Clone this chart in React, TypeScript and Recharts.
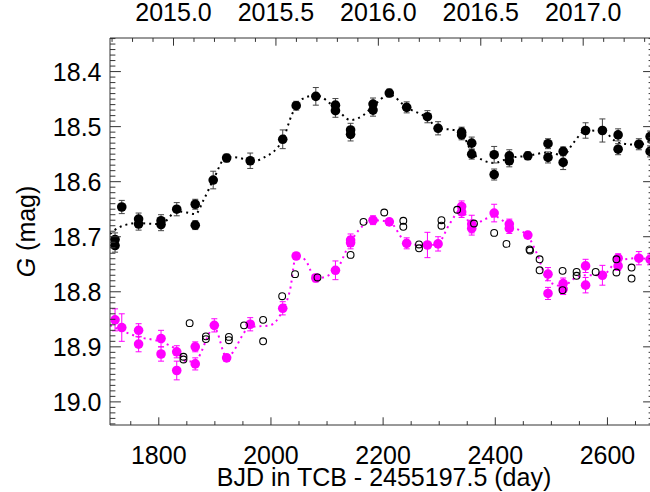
import React from "react";
import { ComposedChart, Scatter, Line, XAxis, YAxis, ErrorBar, Label } from "recharts";

// [day, mag, error]
const seriesA: [number, number, number][] = [
  [1722, 18.705, 0.012], [1722, 18.716, 0.012], [1734, 18.646, 0.012],
  [1764, 18.668, 0.011], [1764, 18.677, 0.011], [1804, 18.671, 0.011],
  [1804, 18.678, 0.011], [1832, 18.65, 0.012], [1865, 18.641, 0.009],
  [1865, 18.679, 0.008], [1897, 18.597, 0.016], [1921, 18.557, 0.007],
  [1963, 18.562, 0.014], [2021, 18.523, 0.017], [2045, 18.462, 0.008],
  [2080, 18.445, 0.016], [2115, 18.461, 0.012], [2115, 18.471, 0.012],
  [2142, 18.506, 0.012], [2142, 18.514, 0.012], [2182, 18.459, 0.011],
  [2182, 18.47, 0.011], [2211, 18.439, 0.007], [2242, 18.465, 0.01],
  [2279, 18.482, 0.011], [2298, 18.503, 0.012], [2340, 18.51, 0.009],
  [2340, 18.515, 0.009], [2358, 18.53, 0.011], [2358, 18.55, 0.009],
  [2398, 18.551, 0.015], [2398, 18.587, 0.01], [2425, 18.553, 0.011],
  [2425, 18.562, 0.011], [2458, 18.553, 0.007], [2494, 18.531, 0.009],
  [2494, 18.556, 0.01], [2521, 18.545, 0.008], [2521, 18.565, 0.013],
  [2561, 18.507, 0.014], [2591, 18.507, 0.021], [2619, 18.515, 0.011],
  [2619, 18.541, 0.01], [2656, 18.532, 0.01], [2676, 18.518, 0.01],
  [2676, 18.545, 0.01],
];

const seriesB: [number, number, number][] = [
  [1722, 18.851, 0.02], [1734, 18.865, 0.025], [1764, 18.87, 0.012],
  [1764, 18.895, 0.014], [1804, 18.885, 0.015], [1804, 18.913, 0.013],
  [1832, 18.909, 0.011], [1832, 18.943, 0.017], [1865, 18.9, 0.009],
  [1865, 18.931, 0.011], [1899, 18.861, 0.012], [1921, 18.92, 0.006],
  [1963, 18.859, 0.012], [2021, 18.83, 0.012], [2045, 18.735, 0.005],
  [2080, 18.775, 0.007], [2115, 18.761, 0.017], [2142, 18.706, 0.011],
  [2142, 18.711, 0.011], [2182, 18.67, 0.008], [2211, 18.673, 0.006],
  [2242, 18.712, 0.01], [2279, 18.715, 0.023], [2298, 18.713, 0.013],
  [2340, 18.645, 0.01], [2340, 18.655, 0.01], [2358, 18.677, 0.016],
  [2358, 18.685, 0.012], [2398, 18.657, 0.016], [2425, 18.677, 0.009],
  [2425, 18.685, 0.009], [2458, 18.697, 0.006], [2494, 18.768, 0.012],
  [2494, 18.803, 0.011], [2521, 18.785, 0.01], [2521, 18.795, 0.01],
  [2561, 18.753, 0.012], [2561, 18.788, 0.014], [2591, 18.77, 0.018],
  [2619, 18.739, 0.008], [2619, 18.753, 0.008], [2656, 18.739, 0.012],
  [2676, 18.741, 0.01],
];

// [day, mag]
const seriesC: [number, number][] = [
  [1844, 18.918], [1844, 18.923], [1855, 18.857], [1884, 18.881], [1884, 18.886],
  [1925, 18.882], [1925, 18.888], [1952, 18.861], [1986, 18.851], [1986, 18.89],
  [2020, 18.808], [2043, 18.768], [2083, 18.774], [2142, 18.733], [2165, 18.673],
  [2202, 18.656], [2236, 18.671], [2236, 18.682], [2264, 18.714], [2264, 18.721],
  [2304, 18.67], [2304, 18.68], [2332, 18.651], [2362, 18.676], [2398, 18.693],
  [2420, 18.713], [2461, 18.723], [2462, 18.725], [2479, 18.741], [2479, 18.761],
  [2520, 18.762], [2520, 18.797], [2545, 18.764], [2545, 18.771], [2579, 18.764],
  [2616, 18.741], [2616, 18.765], [2643, 18.756], [2643, 18.776],
];

const curveA: [number, number][] = [
  [1713, 18.695], [1731, 18.682], [1764, 18.675], [1779, 18.676], [1804, 18.677],
  [1832, 18.654], [1850, 18.656], [1865, 18.659], [1880, 18.633], [1897, 18.597],
  [1921, 18.555], [1945, 18.557], [1963, 18.564], [1986, 18.557], [2021, 18.524],
  [2037, 18.479], [2052, 18.452], [2080, 18.443], [2115, 18.466], [2142, 18.488],
  [2165, 18.479], [2182, 18.463], [2211, 18.442], [2242, 18.465], [2279, 18.485],
  [2298, 18.503], [2325, 18.506], [2340, 18.512], [2358, 18.546], [2378, 18.561],
  [2398, 18.566], [2425, 18.557], [2458, 18.553], [2494, 18.547], [2521, 18.552],
  [2539, 18.53], [2561, 18.507], [2591, 18.508], [2619, 18.529], [2656, 18.533],
  [2676, 18.526],
];

const curveB: [number, number][] = [
  [1713, 18.861], [1764, 18.882], [1804, 18.891], [1832, 18.906], [1850, 18.927],
  [1865, 18.925], [1899, 18.865], [1921, 18.919], [1963, 18.864], [1998, 18.861],
  [2021, 18.833], [2034, 18.797], [2045, 18.734], [2061, 18.742], [2080, 18.776],
  [2115, 18.762], [2142, 18.709], [2165, 18.679], [2182, 18.67], [2211, 18.673],
  [2242, 18.711], [2279, 18.716], [2298, 18.712], [2319, 18.676], [2340, 18.65],
  [2358, 18.681], [2378, 18.67], [2398, 18.663], [2425, 18.68], [2458, 18.699],
  [2474, 18.73], [2494, 18.78], [2521, 18.79], [2539, 18.777], [2561, 18.77],
  [2591, 18.77], [2619, 18.743], [2656, 18.739], [2676, 18.741],
];

const dayMajor = [1800, 2000, 2200, 2400, 2600];
const dayTicks = [1750, 1800, 1850, 1900, 1950, 2000, 2050, 2100, 2150, 2200, 2250,
  2300, 2350, 2400, 2450, 2500, 2550, 2600, 2650];
const yearMajor = [2015.0, 2015.5, 2016.0, 2016.5, 2017.0];
const magMajor = [18.4, 18.5, 18.6, 18.7, 18.8, 18.9, 19.0];

const DAY_DOMAIN: [number, number] = [1713, 2683];
const MAG_DOMAIN: [number, number] = [18.339, 19.042];

// years since 2010.0 (BJD 2455197.5)
const yearToDay = (yr: number) => (yr - 2010) * 365.25;
const dayToYear = (d: number) => 2010 + d / 365.25;

const yearTicks = Array.from({ length: 27 }, (_, i) => yearToDay(2014.7 + i * 0.1));
const magTicks = Array.from({ length: 71 }, (_, i) => Math.round((18.34 + i * 0.01) * 100) / 100);

const toErrRows = (rows: [number, number, number][]) =>
  rows.map(([day, mag, err]) => ({ day, mag, err }));
const toRows = (rows: [number, number][]) => rows.map(([day, mag]) => ({ day, mag }));

const FONT = '"Liberation Sans", Arial, Helvetica, sans-serif';
const AXIS = "#333";
const PINK = "#ff00ff";

const isMajorMag = (v: number) => magMajor.some((m) => Math.abs(m - v) < 1e-6);
const isMajorYear = (d: number) => {
  const y = dayToYear(d);
  return yearMajor.some((m) => Math.abs(m - y) < 1e-4);
};

function BottomTick({ x, y, payload }: any) {
  const major = dayMajor.includes(payload.value);
  return (
    <g>
      <line x1={x} x2={x} y1={y} y2={y - (major ? 7.7 : 3.9)} stroke={AXIS} />
      {major && (
        <text x={x} y={y + 38.5} textAnchor="middle" fontSize={25} fontFamily={FONT} fill="#000">
          {payload.value}
        </text>
      )}
    </g>
  );
}

function TopTick({ x, y, payload }: any) {
  const major = isMajorYear(payload.value);
  return (
    <g>
      <line x1={x} x2={x} y1={y} y2={y + (major ? 7.7 : 3.9)} stroke={AXIS} />
      {major && (
        <text x={x} y={y - 17} textAnchor="middle" fontSize={25} fontFamily={FONT} fill="#000">
          {dayToYear(payload.value).toFixed(1)}
        </text>
      )}
    </g>
  );
}

function LeftTick({ x, y, payload }: any) {
  const major = isMajorMag(payload.value);
  return (
    <g>
      <line x1={x} x2={x + (major ? 10.9 : 5.4)} y1={y} y2={y} stroke={AXIS} />
      {major && (
        <text x={x - 8.5} y={y + 9} textAnchor="end" fontSize={25} fontFamily={FONT} fill="#000">
          {payload.value.toFixed(1)}
        </text>
      )}
    </g>
  );
}

function RightTick({ x, y, payload }: any) {
  const major = isMajorMag(payload.value);
  return <line x1={x} x2={x - (major ? 10.9 : 5.4)} y1={y} y2={y} stroke={AXIS} />;
}

function XTitle({ viewBox }: any) {
  return (
    <text x={viewBox.x + viewBox.width / 2 + 2} y={viewBox.y + 61} textAnchor="middle"
      fontSize={25} fontFamily={FONT} fill="#000">
      BJD in TCB - 2455197.5 (day)
    </text>
  );
}

function YTitle({ viewBox }: any) {
  const cx = viewBox.x + 35;
  const cy = viewBox.y + viewBox.height / 2;
  return (
    <text x={cx} y={cy} transform={`rotate(-90 ${cx} ${cy})`} textAnchor="middle"
      fontSize={25} fontFamily={FONT} fill="#000">
      <tspan fontStyle="italic">G</tspan> (mag)
    </text>
  );
}

const dot = (r: number, fill: string) => (p: any) => <circle cx={p.cx} cy={p.cy} r={r} fill={fill} />;
const ring = (p: any) => (
  <circle cx={p.cx} cy={p.cy} r={3.4} fill="none" stroke="#000" strokeWidth={1.1} />
);

export default function App() {
  return (
    <div style={{ position: "absolute", left: 0, top: 0, width: 650, height: 492, overflow: "hidden", background: "#fff" }}>
      <ComposedChart width={680} height={492} margin={{ top: 0, right: 10, bottom: 0, left: 0 }}>
        <XAxis xAxisId="day" type="number" dataKey="day" domain={DAY_DOMAIN} allowDataOverflow
          ticks={dayTicks} interval={0} tick={<BottomTick />} tickLine={false} tickSize={0}
          tickMargin={0} height={67} axisLine={{ stroke: AXIS }}>
          <Label content={<XTitle />} />
        </XAxis>
        <XAxis xAxisId="year" orientation="top" type="number" dataKey="day" domain={DAY_DOMAIN}
          allowDataOverflow ticks={yearTicks} interval={0} tick={<TopTick />} tickLine={false}
          tickSize={0} tickMargin={0} height={38} axisLine={{ stroke: AXIS }} />
        <YAxis yAxisId="mag" type="number" dataKey="mag" domain={MAG_DOMAIN} reversed allowDataOverflow
          ticks={magTicks} interval={0} tick={<LeftTick />} tickLine={false} tickSize={0}
          tickMargin={0} width={110} axisLine={{ stroke: AXIS }}>
          <Label content={<YTitle />} />
        </YAxis>
        <YAxis yAxisId="magRight" orientation="right" type="number" dataKey="mag" domain={MAG_DOMAIN}
          reversed allowDataOverflow ticks={magTicks} interval={0} tick={<RightTick />} tickLine={false}
          tickSize={0} tickMargin={0} width={16} axisLine={{ stroke: AXIS }} />

        <Line xAxisId="day" yAxisId="mag" data={toRows(curveB)} dataKey="mag" type="monotone"
          stroke={PINK} strokeWidth={2} strokeDasharray="2 4" dot={false} activeDot={false}
          isAnimationActive={false} />
        <Scatter xAxisId="day" yAxisId="mag" data={toErrRows(seriesB)} shape={dot(4.8, PINK)}
          isAnimationActive={false}>
          <ErrorBar dataKey="err" direction="y" width={3} stroke={PINK} strokeWidth={1}
            isAnimationActive={false} />
        </Scatter>
        <Line xAxisId="day" yAxisId="mag" data={toRows(curveA)} dataKey="mag" type="monotone"
          stroke="#000" strokeWidth={2} strokeDasharray="2 4" dot={false} activeDot={false}
          isAnimationActive={false} />
        <Scatter xAxisId="day" yAxisId="mag" data={toErrRows(seriesA)} shape={dot(4.8, "#000")}
          isAnimationActive={false}>
          <ErrorBar dataKey="err" direction="y" width={3} stroke="#444" strokeWidth={1}
            isAnimationActive={false} />
        </Scatter>
        <Scatter xAxisId="day" yAxisId="mag" data={toRows(seriesC)} shape={ring}
          isAnimationActive={false} />
      </ComposedChart>
    </div>
  );
}
